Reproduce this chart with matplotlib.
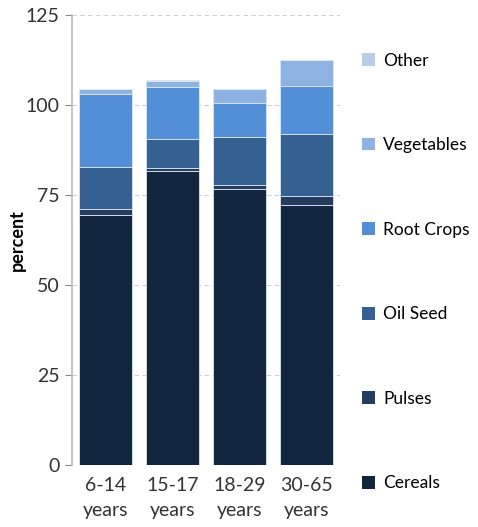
import numpy as np
import matplotlib
matplotlib.use("Agg")
import matplotlib.pyplot as plt
from matplotlib.patches import Patch

plt.rcParams['font.family'] = ['Lato', 'DejaVu Sans']

groups = ['6-14\nyears', '15-17\nyears', '18-29\nyears', '30-65\nyears']
crops = ['Cereals', 'Pulses', 'Oil Seed', 'Root Crops', 'Vegetables', 'Other']
cereals = [69.4, 81.7, 76.6, 72.1]
pulses = [1.6, 0.7, 1.0, 2.6]
oil_seed = [11.7, 8.0, 13.5, 17.1]
root_crops = [20.4, 14.4, 9.4, 13.4]
vegetables = [1.3, 1.9, 3.9, 7.2]
other = [0.1, 0.1, 0.1, 0.1]
colors = ['#12263f', '#243d5f', '#356092', '#538fd6', '#8db3e2', '#b9cde8']

fig = plt.figure(figsize=(4.78, 5.27), dpi=100)
ax = fig.add_axes([0.151, 0.118, 0.56, 0.854])

x = np.arange(len(groups))
bottom = np.zeros(len(groups))
for vals, col in zip([cereals, pulses, oil_seed, root_crops, vegetables, other], colors):
    ax.bar(x, vals, 0.8, bottom=bottom, color=col, edgecolor='#dfe6ef', linewidth=0.6, zorder=3)
    bottom += np.array(vals)

ax.set_xlim(-0.5, 3.5)
ax.set_ylim(0, 125)
ax.set_yticks([0, 25, 50, 75, 100, 125])
ax.set_xticks(x)
ax.set_xticklabels(groups, fontsize=14, color='#333333', linespacing=1.55)
ax.tick_params(axis='y', labelsize=14, colors='#333333', length=5, color='#888888', pad=4)
ax.tick_params(axis='x', length=0, pad=9)
ax.yaxis.grid(True, linestyle=(0, (4, 3)), color='#d0d0d0', linewidth=0.8, zorder=0)
for s in ['top', 'right', 'bottom']:
    ax.spines[s].set_visible(False)
ax.spines['left'].set_color('#bbbbbb')
ax.spines['left'].set_linewidth(1.2)
ax.set_ylabel('percent', fontsize=13, fontweight='bold', labelpad=0)

handles = [Patch(facecolor=c, edgecolor='none') for c in colors]
leg = fig.legend(handles[::-1], crops[::-1], loc='upper left', bbox_to_anchor=(0.725, 0.93),
                 frameon=False, fontsize=12.5, labelspacing=3.95, handlelength=0.75,
                 handleheight=0.75, handletextpad=0.45)

fig.savefig('out.png', dpi=100)
